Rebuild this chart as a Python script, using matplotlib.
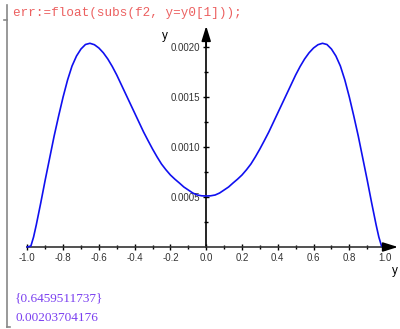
import matplotlib
matplotlib.use("Agg")
import matplotlib.pyplot as plt

# curve values
xs = [-1.0, -0.98, -0.965, -0.95, -0.925, -0.9, -0.875, -0.85, -0.825, -0.8, -0.775, -0.75, -0.725,
      -0.7, -0.675, -0.65, -0.625, -0.6, -0.575, -0.55, -0.525, -0.5, -0.475, -0.45, -0.425,
      -0.4, -0.375, -0.35, -0.325, -0.3, -0.275, -0.25, -0.225, -0.2, -0.175, -0.15, -0.125,
      -0.1, -0.075, -0.05, -0.025,
      0.0, 0.025, 0.05, 0.075, 0.1, 0.125, 0.15, 0.175, 0.2, 0.225, 0.25, 0.275, 0.3, 0.325,
      0.35, 0.375, 0.4, 0.425, 0.45, 0.475, 0.5, 0.525, 0.55, 0.575, 0.6, 0.625, 0.65, 0.675,
      0.7, 0.725, 0.75, 0.775, 0.8, 0.825, 0.85, 0.875, 0.9, 0.925, 0.95, 0.965, 0.98, 1.0]
ys = [0.0, 0.00001, 0.00010, 0.00022, 0.00044, 0.00067, 0.00089, 0.00111, 0.00131, 0.00150, 0.00167, 0.00181, 0.00191,
      0.00198, 0.002025, 0.002037, 0.002023, 0.00199, 0.001942, 0.00188, 0.001805, 0.00172, 0.001625, 0.00153, 0.001435,
      0.00134, 0.001245, 0.00115, 0.001064, 0.00098, 0.000902, 0.00083, 0.000772, 0.00072, 0.000678, 0.00064, 0.000600,
      0.00057, 0.000540, 0.00052, 0.000512,
      0.00051, 0.000512, 0.00052, 0.000540, 0.00057, 0.000600, 0.00064, 0.000678, 0.00072, 0.000772, 0.00083, 0.000902,
      0.00098, 0.001064, 0.00115, 0.001245, 0.00134, 0.001435, 0.00153, 0.001625, 0.00172, 0.001805, 0.00188, 0.001942,
      0.00199, 0.002023, 0.002037, 0.002025, 0.00198, 0.00191, 0.00181, 0.00167, 0.00150, 0.00131, 0.00111, 0.00089,
      0.00067, 0.00044, 0.00022, 0.00010, 0.00001, 0.0]

xticks = [-1.0, -0.8, -0.6, -0.4, -0.2, 0.0, 0.2, 0.4, 0.6, 0.8, 1.0]
xlabels = ['-1.0', '-0.8', '-0.6', '-0.4', '-0.2', '0.0', '0.2', '0.4', '0.6', '0.8', '1.0']
xminor = [-0.9, -0.7, -0.5, -0.3, -0.1, 0.1, 0.3, 0.5, 0.7, 0.9]
yticks = [0.0005, 0.0010, 0.0015, 0.0020]
ylabels = ['0.0005', '0.0010', '0.0015', '0.0020']
yminor = [0.00025, 0.00075, 0.00125, 0.00175]

code_line = "err:=float(subs(f2, y=y0[1]));"
out_lines = ["{0.6459511737}", "0.00203704176"]

fig = plt.figure(figsize=(4.0, 3.29), dpi=100)

# overlay in pixel coordinates for worksheet text and bracket
ov = fig.add_axes([0, 0, 1, 1])
ov.set_xlim(0, 400)
ov.set_ylim(329, 0)
ov.axis('off')
ov.patch.set_alpha(0)
ov.plot([7, 7], [5, 327], color='#888888', lw=1.2)
ov.plot([4, 7], [20, 20], color='#888888', lw=1.2)
ov.plot([7, 10], [327, 327], color='#888888', lw=1.2)
ov.text(13, 13, code_line, color='#ec6060', fontsize=9.1, family='Liberation Mono', va='center', ha='left')
ov.text(15, 298, out_lines[0], color='#7a3ff0', fontsize=9.5, family='Liberation Serif', va='center', ha='left')
ov.text(15, 318, out_lines[1], color='#7a3ff0', fontsize=9.5, family='Liberation Serif', va='center', ha='left')

# plot axes
ax = fig.add_axes([13.0 / 400, 62.0 / 329, 386.4 / 400, 250.0 / 329])
ax.patch.set_alpha(0)
ax.set_xlim(-1.08, 1.08)
ax.set_ylim(-0.0002, 0.0023)
ax.plot(xs, ys, color='#1010f0', lw=1.2, zorder=3)

for s in ['top', 'right']:
    ax.spines[s].set_visible(False)
ax.spines['left'].set_position(('data', 0))
ax.spines['bottom'].set_position(('data', 0))
ax.spines['left'].set_bounds(0, 0.0021)
ax.spines['bottom'].set_bounds(-1.0, 1.05)
ax.spines['left'].set_linewidth(1.2)
ax.spines['bottom'].set_linewidth(1.2)
ax.spines['bottom'].set_color('#333333')

ax.set_xticks(xticks)
ax.set_xticklabels(xlabels)
ax.set_xticks(xminor, minor=True)
ax.set_yticks(yticks)
ax.set_yticklabels(ylabels)
ax.set_yticks(yminor, minor=True)
ax.tick_params(which='major', direction='inout', length=5, width=1.0, labelsize=7,
               labelcolor='#333333', pad=2)
ax.tick_params(which='minor', direction='inout', length=3, width=1.0)
for lab in ax.get_xticklabels() + ax.get_yticklabels():
    lab.set_family('Liberation Sans')

# axis arrows
ax.annotate('', xy=(1.072, 0), xytext=(1.0, 0),
            arrowprops=dict(arrowstyle='-|>,head_length=0.9,head_width=0.28',
                            color='black', lw=1.2, shrinkA=0, shrinkB=0))
ax.annotate('', xy=(0, 0.00221), xytext=(0, 0.0020),
            arrowprops=dict(arrowstyle='-|>,head_length=0.9,head_width=0.28',
                            color='black', lw=1.2, shrinkA=0, shrinkB=0))

ov.text(165, 36, 'y', fontsize=8.5, family='Liberation Sans', ha='center', va='center')
ov.text(395, 271, 'y', fontsize=8.5, family='Liberation Sans', ha='center', va='center')

fig.savefig('out.png', dpi=100)
